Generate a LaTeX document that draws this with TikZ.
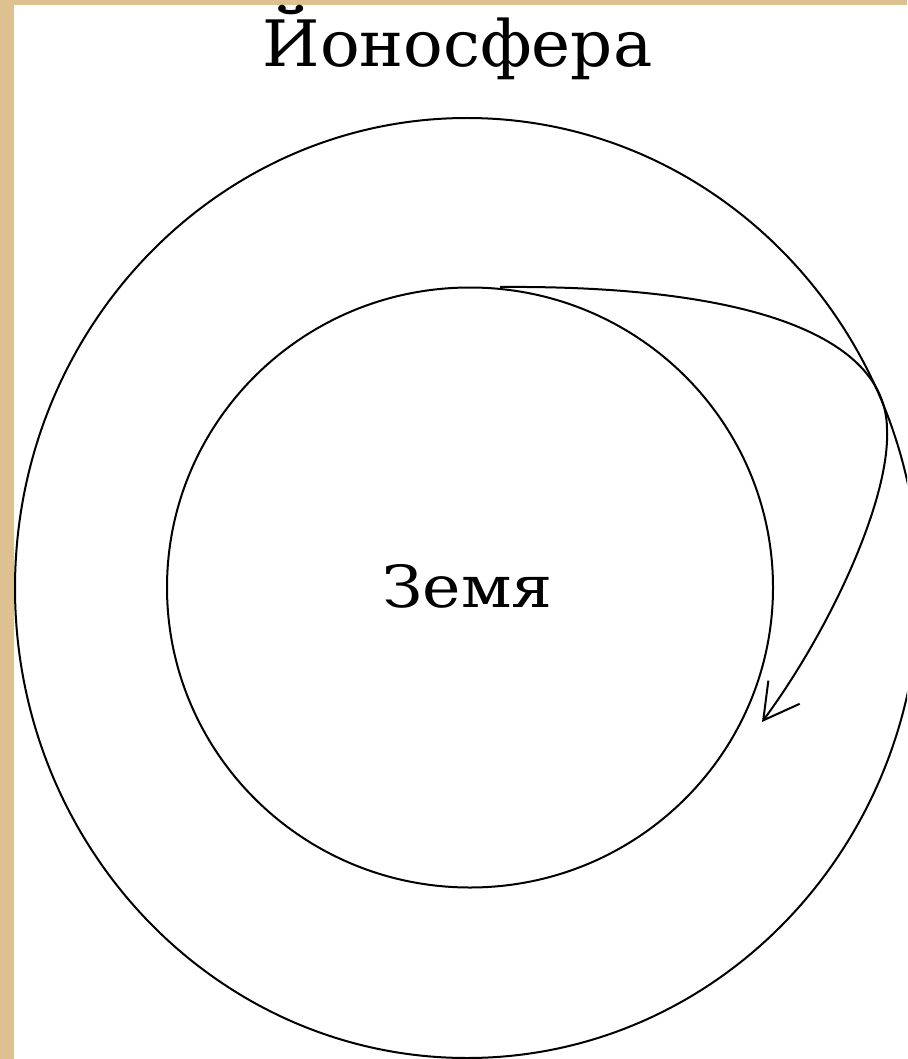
\documentclass[tikz,border=0pt]{standalone}
\usepackage{fontspec}
\setmainfont{DejaVu Serif}
\usetikzlibrary{arrows.meta}
\definecolor{framecol}{RGB}{221,193,145}
\tikzset{
  line/.style={black, line width=2pt},
  label/.style={inner sep=0pt, anchor=base, text=black},
}
\begin{document}
\begin{tikzpicture}[x=1pt,y=-1pt]
\useasboundingbox (0,0) rectangle (907,1059);
\fill[framecol] (0,0) rectangle (907,1059);
\fill[white] (14,5) rectangle (907,1059);
\begin{scope}
\clip (14,5) rectangle (907,1059);
% ionosphere (outer) and earth (inner)
\draw[line] (467,588) ellipse [x radius=452pt, y radius=470pt];
\draw[line] (470,587.5) ellipse [x radius=303pt, y radius=300pt];
% wave path
\coordinate (start) at (500,287);
\coordinate (turn) at (887,430);
\coordinate (hit) at (762,722);
\draw[line, -{Straight Barb[length=35pt, width=39pt, line width=2pt]}]
  (start) .. controls (760,285) and (887,340) .. (turn)
          .. controls (890,500) and (830,630) .. (hit);
\end{scope}
\node[label] (title) at (457.5,67) {\scalebox{1.03}[1]{\fontsize{64}{70}\selectfont Йоносфера}};
\node[label] (earth) at (467.5,607) {\scalebox{1.12}[1]{\fontsize{58}{62}\selectfont Земя}};
\end{tikzpicture}
\end{document}
